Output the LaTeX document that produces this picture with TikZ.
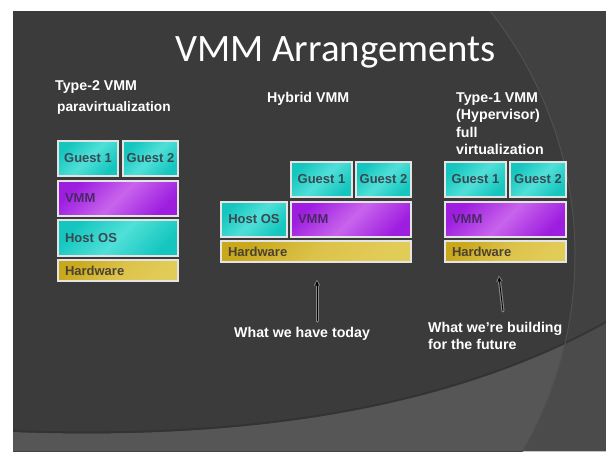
\documentclass[tikz,border=0pt]{standalone}
\usepackage{fontspec}
\setmainfont{Liberation Sans}
\newfontfamily\titlefont{Carlito}
\usetikzlibrary{arrows.meta}
\definecolor{bgdark}{HTML}{3B3B3B}
\definecolor{bgright}{HTML}{414141}
\definecolor{botL}{HTML}{565656}
\definecolor{botR}{HTML}{4B4B4B}
\definecolor{arcln}{HTML}{505050}
\definecolor{shadow}{HTML}{323232}
\definecolor{cyL}{HTML}{50E0D8}
\definecolor{cyD}{HTML}{14C6BE}
\definecolor{puL}{HTML}{C864EC}
\definecolor{puD}{HTML}{9E1EE0}
\definecolor{goL}{HTML}{E2CC58}
\definecolor{goM}{HTML}{DCC24A}
\definecolor{goD}{HTML}{C9A81C}
\definecolor{cyT}{HTML}{3A4852}
\definecolor{puT}{HTML}{4A2868}
\definecolor{goT}{HTML}{4A4232}
\definecolor{boxln}{HTML}{E4E4E4}
\definecolor{halo}{HTML}{8A8A8A}
\tikzset{
  box/.style={draw=boxln, line width=1.1pt, outer sep=0pt, inner ysep=0pt, anchor=north west,
    font=\bfseries\fontsize{13}{15}\selectfont},
  cybox/.style={box, left color=cyD, right color=cyD, middle color=cyL, shading angle=45, text=cyT},
  pubox/.style={box, left color=puD, right color=puD, middle color=puL, shading angle=45, text=puT},
  gobox/.style={box, left color=goD, right color=goL, middle color=goM, shading angle=45, text=goT},
  wl/.style={text width=#1, align=left, inner xsep=7pt},
  lab/.style={text=white, font=\bfseries\fontsize{14.2}{17.6}\selectfont, inner sep=0pt, align=left, anchor=base west},
  haloline/.style={line width=3pt, draw=halo, line cap=round, -{Triangle[length=6pt,width=6pt]}, shorten >=-1.5pt},
  arrline/.style={line width=0.9pt, draw=black, -{Triangle[length=4.5pt,width=3.6pt]}}
}
\begin{document}
\begin{tikzpicture}[x=1pt,y=-1pt]
\useasboundingbox (0,0) rectangle (606,451);
\fill[white] (0,0) rectangle (606,451);
\begin{scope}
  \clip (13,11) rectangle (606,451);
  \fill[bgdark] (13,11) rectangle (606,451);
  \fill[bgright, even odd rule] (13,11) rectangle (606,451) (182,255) circle[radius=393];
  \fill[botL] (13,432) .. controls (230,440) and (440,415) .. (606,323) -- (606,451) -- (13,451) -- cycle;
  \begin{scope}
    \clip (13,432) .. controls (230,440) and (440,415) .. (606,323) -- (606,451) -- (13,451) -- cycle;
    \fill[botR, even odd rule] (13,300) rectangle (606,451) (182,255) circle[radius=393];
  \end{scope}
  \draw[shadow, line width=2pt, opacity=0.8] (13,431) .. controls (230,439) and (440,414) .. (606,322);
  \draw[arcln, line width=1pt] (182,255) circle[radius=393];
\end{scope}

% title
\node[text=white, font=\titlefont\fontsize{38.8}{44}\selectfont, anchor=base, inner sep=0pt] (title) at (335.5,61) {VMM Arrangements};

% headings
\node[lab] (t2) at (55,90) {Type-2 VMM};
\node[lab, font=\bfseries\fontsize{13.7}{17}\selectfont] (pv) at (57,111.5) {paravirtualization};
\node[lab] (hy) at (267,102) {Hybrid VMM};
\node[lab] (t1) at (456,154.8) {Type-1 VMM\\(Hypervisor)\\full\\virtualization};

% left stack
\node[cybox, minimum width=60pt, minimum height=35pt] (lg1) at (58,141) {Guest 1};
\node[cybox, minimum width=55pt, minimum height=35pt] (lg2) at (123,141) {Guest 2};
\node[pubox, wl=106pt, minimum height=35pt] (lvmm) at (58,181) {VMM};
\node[cybox, wl=106pt, minimum height=36pt] (lhost) at (58,220) {Host OS};
\node[gobox, wl=106pt, minimum height=21pt] (lhw) at (58,260) {Hardware};

% middle stack
\node[cybox, minimum width=61pt, minimum height=35pt] (mg1) at (291,162) {Guest 1};
\node[cybox, minimum width=55pt, minimum height=35pt] (mg2) at (356,162) {Guest 2};
\node[cybox, minimum width=66pt, minimum height=35pt] (mhost) at (221,202) {Host OS};
\node[pubox, wl=106pt, minimum height=35pt] (mvmm) at (291,202) {VMM};
\node[gobox, wl=176pt, minimum height=21pt] (mhw) at (221,241) {Hardware};

% right stack
\node[cybox, minimum width=61pt, minimum height=35pt] (rg1) at (445,162) {Guest 1};
\node[cybox, minimum width=56pt, minimum height=35pt] (rg2) at (510,162) {Guest 2};
\node[pubox, wl=107pt, minimum height=35pt] (rvmm) at (445,202) {VMM};
\node[gobox, wl=107pt, minimum height=21pt] (rhw) at (445,241) {Hardware};

% arrows
\coordinate (a1s) at (317,321);
\coordinate (a1e) at (317,281);
\coordinate (a2s) at (503,311);
\coordinate (a2e) at (499,277);
\draw[haloline] (a1s) -- (a1e);
\draw[arrline] (a1s) -- (a1e);
\draw[haloline] (a2s) -- (a2e);
\draw[arrline] (a2s) -- (a2e);

\node[lab] (today) at (234,337) {What we have today};
\node[lab] (future) at (428,349.6) {What we’re building\\for the future};
\end{tikzpicture}
\end{document}
